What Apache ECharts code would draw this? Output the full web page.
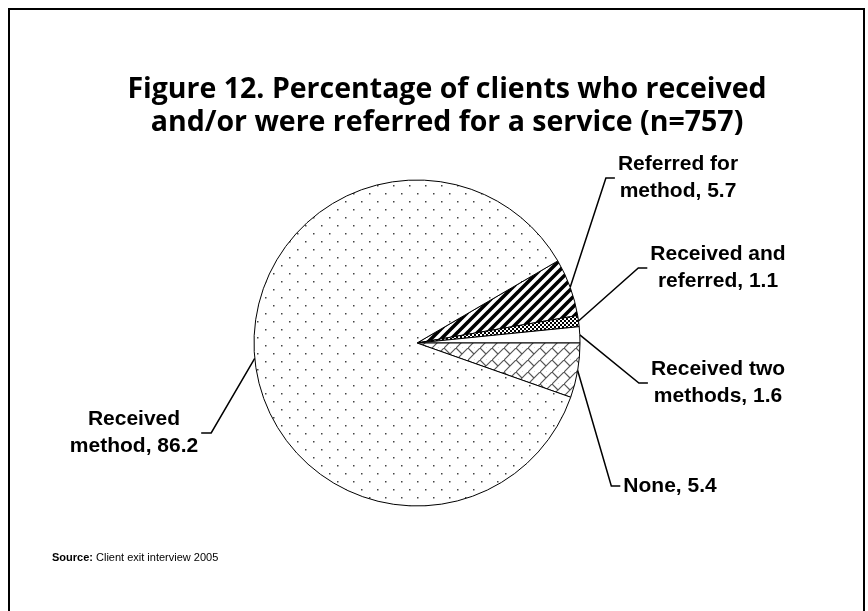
<!DOCTYPE html>
<html>
<head>
<meta charset="utf-8">
<script src="https://cdn.jsdelivr.net/npm/echarts@6/dist/echarts.min.js"></script>
<style>
  html, body { margin: 0; padding: 0; background: #fff; }
  #chart { width: 868px; height: 611px; }
</style>
</head>
<body>
<div id="chart"></div>
<script>
// slices, in drawing order (clockwise from the upper right)
const categories = ['Referred for method', 'Received and referred', 'Received two methods', 'None', 'Received method']
const labelNames = ['Referred for\nmethod', 'Received and\nreferred', 'Received two\nmethods', 'None', 'Received\nmethod']
const values = [5.7, 1.1, 1.6, 5.4, 86.2]

// where each label sits (text centre) and which side its leader comes in from
const labelSpots = [
  { x: 678, y: 178, side: 'left' },
  { x: 718, y: 268, side: 'left' },
  { x: 718, y: 383, side: 'left' },
  { x: 670, y: 486, side: 'left' },
  { x: 134, y: 433, side: 'right' }
]

function makePattern(kind) {
  const c = document.createElement('canvas')
  const ctx = c.getContext('2d')
  if (kind === 'dots') {
    c.width = 16; c.height = 16
    ctx.fillStyle = '#fff'; ctx.fillRect(0, 0, 16, 16)
    ctx.fillStyle = '#444'
    ctx.fillRect(1, 1, 1.5, 1.5)
    ctx.fillRect(9, 9, 1.5, 1.5)
  } else if (kind === 'stripes') {
    c.width = 10; c.height = 10
    ctx.fillStyle = '#fff'; ctx.fillRect(0, 0, 10, 10)
    ctx.strokeStyle = '#000'; ctx.lineWidth = 3.6
    ctx.beginPath()
    // "/" stripes that tile seamlessly
    for (let k = -10; k <= 10; k += 10) {
      ctx.moveTo(k - 1, 11); ctx.lineTo(k + 11, -1)
    }
    ctx.stroke()
  } else if (kind === 'checker') {
    c.width = 4; c.height = 4
    ctx.fillStyle = '#fff'; ctx.fillRect(0, 0, 4, 4)
    ctx.fillStyle = '#000'
    ctx.fillRect(0, 0, 2, 2); ctx.fillRect(2, 2, 2, 2)
  } else if (kind === 'brick') {
    c.width = 12; c.height = 12
    ctx.fillStyle = '#fff'; ctx.fillRect(0, 0, 12, 12)
    ctx.strokeStyle = '#555'; ctx.lineWidth = 1.2
    ctx.beginPath()
    ctx.moveTo(-2, 14); ctx.lineTo(14, -2)
    ctx.moveTo(0, 0); ctx.lineTo(6, 6)
    ctx.moveTo(6, 12); ctx.lineTo(12, 18)
    ctx.moveTo(6, -6); ctx.lineTo(12, 0)
    ctx.stroke()
  } else {
    c.width = 4; c.height = 4
    ctx.fillStyle = '#fff'; ctx.fillRect(0, 0, 4, 4)
  }
  return { image: c, repeat: 'repeat' }
}

const fills = [makePattern('stripes'), makePattern('checker'), makePattern('plain'), makePattern('brick'), makePattern('dots')]

const chart = echarts.init(document.getElementById('chart'), null, { renderer: 'canvas' })

const option = {
  animation: false,
  backgroundColor: '#fff',
  title: {
    text: 'Figure 12. Percentage of clients who received\nand/or were referred for a service (n=757)',
    left: 442,
    textAlign: 'center',
    top: 68,
    textStyle: {
      fontFamily: 'Open Sans',
      fontWeight: 'bold',
      fontSize: 28.5,
      lineHeight: 33,
      color: '#000'
    }
  },
  graphic: [
    {
      type: 'rect',
      shape: { x: 9, y: 9, width: 855, height: 640 },
      style: { fill: null, stroke: '#000', lineWidth: 2 },
      silent: true
    },
    {
      type: 'text',
      left: 52,
      top: 552,
      style: {
        text: '{b|Source:} Client exit interview 2005',
        rich: { b: { fontWeight: 'bold', fontFamily: 'Liberation Sans', fontSize: 11 } },
        fontFamily: 'Liberation Sans',
        fontSize: 11,
        fill: '#000'
      }
    }
  ],
  series: [
    {
      type: 'pie',
      center: [417, 343],
      radius: 163,
      startAngle: 30.24,
      clockwise: true,
      avoidLabelOverlap: false,
      emphasis: { disabled: true },
      itemStyle: { borderColor: '#000', borderWidth: 1 },
      label: {
        show: true,
        position: 'outside',
        formatter: p => labelNames[p.dataIndex] + ', ' + values[p.dataIndex],
        fontFamily: 'Liberation Sans',
        fontWeight: 'bold',
        fontSize: 21,
        lineHeight: 27,
        color: '#000',
        align: 'center'
      },
      labelLine: {
        show: true,
        lineStyle: { color: '#000', width: 1.5 }
      },
      labelLayout: params => {
        const spot = labelSpots[params.dataIndex]
        const w = params.labelRect.width
        const start = params.labelLinePoints[0]
        const edgeX = spot.side === 'left' ? spot.x - w / 2 - 3 : spot.x + w / 2 + 3
        const elbowX = spot.side === 'left' ? edgeX - 9 : edgeX + 10
        return {
          x: spot.x,
          y: spot.y,
          align: 'center',
          verticalAlign: 'middle',
          labelLinePoints: [start, [elbowX, spot.y], [edgeX, spot.y]]
        }
      },
      data: categories.map((name, i) => ({
        name: name,
        value: values[i],
        itemStyle: { color: fills[i] }
      }))
    }
  ]
}

option && chart.setOption(option)
</script>
</body>
</html>
